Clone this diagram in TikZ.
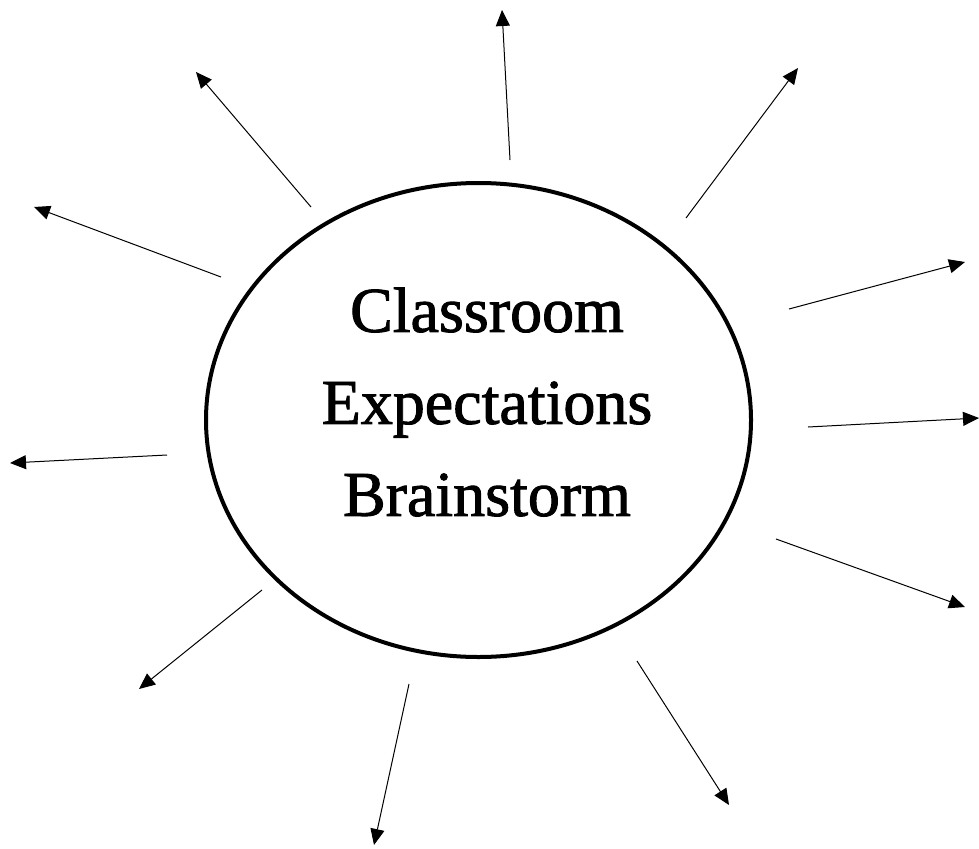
\documentclass[tikz,border=0pt]{standalone}
\usepackage{fontspec}
\setmainfont{Liberation Serif}
\newfontfamily\topicfont[FakeBold=1.5]{Liberation Serif}
\usetikzlibrary{arrows.meta}

\begin{document}
\begin{tikzpicture}[x=1pt, y=-1pt,
    spoke/.style={line width=1pt, -{Triangle[length=16pt, width=14pt]}}]
    % Fix the page size
    \useasboundingbox[fill=white] (0,0) rectangle (979,848);

    % Draw the centre ellipse
    \draw[line width=4pt] (478.5,420) ellipse (272.5 and 237);
    \node[align=center, font=\topicfont\fontsize{64}{92}\selectfont] (topic) at (487,402)
        {Classroom\\Expectations\\Brainstorm};

    % Draw the spokes going out from the ellipse
    \foreach \name/\sx/\sy/\ex/\ey in {
        n/510/160/502/10, nw/311/207/196/72, ne/686/218/798/68,
        wnw/221/277/34/207, ene/789/309/965/262, e/808/427/979/418,
        w/167/455/10/463, ese/776/539/965/607, sw/262/590/139/689,
        s/409/684/374/845, se/637/661/729/805} {
        \coordinate (\name-in) at (\sx,\sy);
        \coordinate (\name-out) at (\ex,\ey);
        \draw[spoke] (\name-in) -- (\name-out);
    }
\end{tikzpicture}
\end{document}
